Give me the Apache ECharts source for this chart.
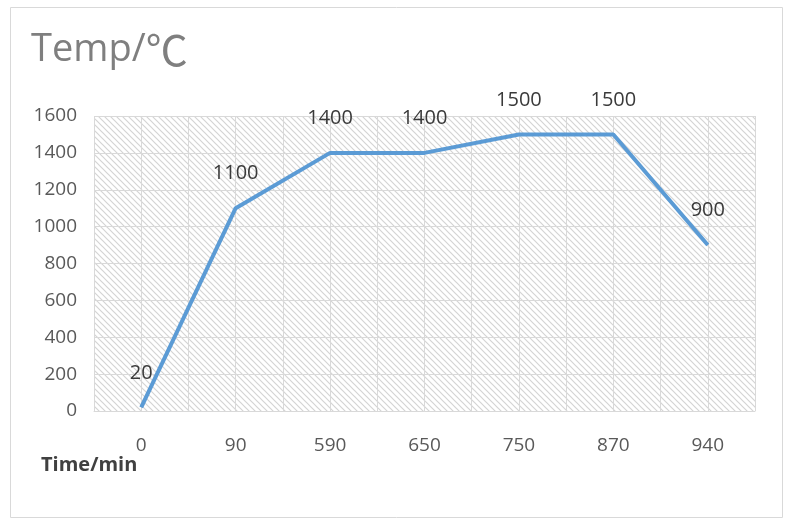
<!DOCTYPE html>
<html><head><meta charset="utf-8">
<script src="https://cdn.jsdelivr.net/npm/echarts@6/dist/echarts.min.js"></script>
<style>html,body{margin:0;padding:0;background:#fff}#c{width:790px;height:523px}</style>
</head><body><div id="c"></div>
<script>
const categories = ['0','90','590','650','750','870','940'];
const temps = [20, 1100, 1400, 1400, 1500, 1500, 900];
const yTicks = [0,200,400,600,800,1000,1200,1400,1600];

const pc = document.createElement('canvas');
pc.width = 6; pc.height = 6;
const g = pc.getContext('2d');
g.fillStyle = '#ffffff'; g.fillRect(0,0,6,6);
g.strokeStyle = '#d4d4d4'; g.lineWidth = 1.2;
g.beginPath();
g.moveTo(-1,-1); g.lineTo(7,7);
g.moveTo(-1,5); g.lineTo(1,7);
g.moveTo(5,-1); g.lineTo(7,1);
g.stroke();

const chart = echarts.init(document.getElementById('c'));
const font = 'Open Sans';
chart.setOption({
  animation:false,
  graphic:[
    {type:'rect', shape:{x:10.5,y:7.5,width:772,height:510}, style:{fill:'none',stroke:'#d9d9d9',lineWidth:1}},
    {type:'text', left:31, top:29, style:{
      rich:{a:{font:'38px "Open Sans"', fill:'#7f7f7f'}, b:{font:'42px "Noto Sans CJK SC"', fill:'#7f7f7f'}},
      text:'{a|Temp/}{b|℃}'}},
    {type:'text', left:41, top:455, style:{text:'Time/min', font:'bold 20px "Open Sans"', fill:'#404040'}}
  ],
  grid:{left:94, right:35, top:116, bottom:112, show:true, borderWidth:0,
        backgroundColor:{image:pc, repeat:'repeat'}},
  xAxis:{type:'value', min:-0.5, max:6.5, interval:0.5,
    axisLine:{show:true, onZero:false, lineStyle:{color:'#d9d9d9', width:1}},
    axisTick:{show:false},
    splitLine:{show:true, lineStyle:{color:'#d9d9d9', width:1}},
    axisLabel:{color:'#595959', fontSize:19, fontFamily:font, margin:25, showMinLabel:true, showMaxLabel:true,
      formatter:v=>{const i=Math.round(v); return Math.abs(v-i)<1e-6 && i>=0 && i<categories.length ? categories[i] : '';}}
  },
  yAxis:{type:'value', min:yTicks[0], max:yTicks[yTicks.length-1], interval:200,
    axisLine:{show:false}, axisTick:{show:false},
    splitLine:{show:true, lineStyle:{color:'#d9d9d9', width:1}},
    axisLabel:{color:'#595959', fontSize:19, fontFamily:font, margin:17, formatter:v=>String(v)}
  },
  series:[{type:'line', data:temps.map((v,i)=>[i,v]), symbol:'circle', symbolSize:1, showSymbol:true,
    itemStyle:{color:'rgba(91,155,213,0)'},
    lineStyle:{color:'#5b9bd5', width:4},
    label:{show:true, position:'top', distance:24, color:'#3a3a3a', fontSize:20, fontFamily:font,
      formatter:p=>String(p.value[1])}
  }]
});
</script></body></html>
